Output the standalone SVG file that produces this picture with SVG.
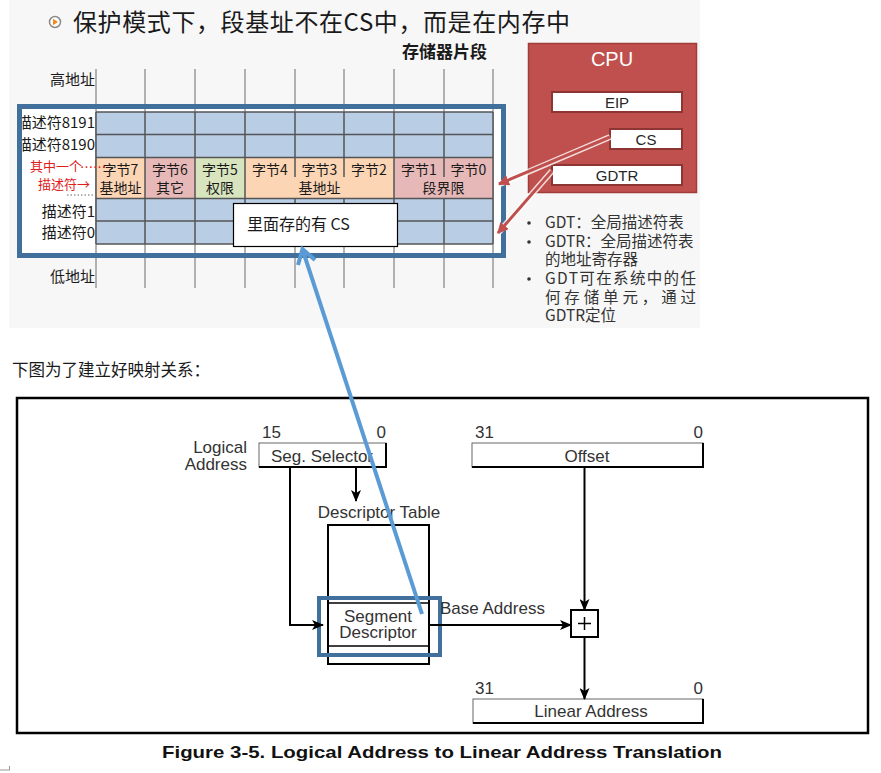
<svg xmlns="http://www.w3.org/2000/svg" width="881" height="773" viewBox="0 0 881 773">
<defs>
<style>
.cjk{font-family:"Noto Sans CJK SC","Noto Sans",sans-serif;}
.lbl{font-family:"Noto Sans CJK SC","Noto Sans",sans-serif;font-size:15px;fill:#1a1a1a;}
.cell{font-family:"Noto Sans CJK SC",sans-serif;font-size:14px;fill:#1a1a1a;text-anchor:middle;}
.red{font-family:"Noto Sans CJK SC",sans-serif;font-size:13px;fill:#e0201b;}
.reg{fill:#fff;stroke:#8c3533;stroke-width:2;}
.regt{font-family:"Liberation Sans",Arial,sans-serif;font-size:15px;fill:#262626;text-anchor:middle;}
.bul{font-family:"Noto Sans CJK SC",sans-serif;font-size:15.5px;fill:#333;}
.fig{font-family:"Liberation Sans",Arial,sans-serif;font-size:17px;fill:#333;}
.gl{stroke:#9a9a9a;stroke-width:1.5;}
.dl{stroke:#555;stroke-width:1.5;}
.ln{stroke:#000;stroke-width:2;fill:none;}
</style>
<marker id="ah" viewBox="0 0 12 10" refX="11" refY="5" markerWidth="12" markerHeight="10" markerUnits="userSpaceOnUse" orient="auto">
<path d="M0,0 L12,5 L0,10 L3,5 Z" fill="#000"/>
</marker>
<marker id="rah" viewBox="0 0 10 10" refX="9" refY="5" markerWidth="11" markerHeight="11" markerUnits="userSpaceOnUse" orient="auto">
<path d="M0,0 L10,5 L0,10 Z" fill="#c0504d"/>
</marker>
</defs>

<!-- top panel background -->
<rect x="9" y="0" width="691" height="328" fill="#f7f7f7"/>

<g id="title">
<circle cx="55" cy="22" r="5.5" fill="#fff" stroke="#8a8a8a" stroke-width="1.5"/>
<path d="M53,18.8 L58,22 L53,25.2 Z" fill="#f08a1c"/>
<text x="73" y="31" class="cjk" font-size="24" fill="#1a1a1a" textLength="497">保护模式下，段基址不在CS中，而是在内存中</text>
</g>

<g id="memory-label">
<text x="402" y="58" class="cjk" font-size="17" font-weight="bold" fill="#1a1a1a">存储器片段</text>
</g>

<g id="memory-table">
<rect x="19.5" y="106.5" width="484" height="149" fill="#fff"/>
<g class="gl">
<line x1="96" y1="69" x2="96" y2="288"/>
<line x1="145" y1="69" x2="145" y2="288"/>
<line x1="195" y1="69" x2="195" y2="288"/>
<line x1="245" y1="69" x2="245" y2="288"/>
<line x1="295" y1="69" x2="295" y2="288"/>
<line x1="344" y1="69" x2="344" y2="288"/>
<line x1="394" y1="69" x2="394" y2="288"/>
<line x1="444" y1="69" x2="444" y2="288"/>
<line x1="493" y1="69" x2="493" y2="288"/>
</g>
<rect x="96" y="112" width="397" height="46" fill="#b9cde5"/>
<rect x="96" y="198" width="397" height="46" fill="#b9cde5"/>
<rect x="96" y="158" width="49" height="40" fill="#fcd5b5"/>
<rect x="145" y="158" width="50" height="40" fill="#e6b9b8"/>
<rect x="195" y="158" width="50" height="40" fill="#d7e4bd"/>
<rect x="245" y="158" width="149" height="40" fill="#fcd5b5"/>
<rect x="394" y="158" width="99" height="40" fill="#e6b9b8"/>
<g class="dl">
<line x1="96" y1="112" x2="493" y2="112"/>
<line x1="96" y1="134.5" x2="493" y2="134.5"/>
<line x1="96" y1="157.5" x2="493" y2="157.5"/>
<line x1="96" y1="198.5" x2="493" y2="198.5"/>
<line x1="96" y1="221" x2="493" y2="221"/>
<line x1="96" y1="244" x2="493" y2="244"/>
<line x1="96" y1="112" x2="96" y2="244"/>
<line x1="145" y1="112" x2="145" y2="244"/>
<line x1="195" y1="112" x2="195" y2="244"/>
<line x1="245" y1="112" x2="245" y2="244"/>
<line x1="295" y1="112" x2="295" y2="157"/>
<line x1="295" y1="158" x2="295" y2="177"/>
<line x1="295" y1="199" x2="295" y2="244"/>
<line x1="344" y1="112" x2="344" y2="157"/>
<line x1="344" y1="158" x2="344" y2="177"/>
<line x1="344" y1="199" x2="344" y2="244"/>
<line x1="394" y1="112" x2="394" y2="244"/>
<line x1="444" y1="112" x2="444" y2="157"/>
<line x1="444" y1="158" x2="444" y2="177"/>
<line x1="444" y1="199" x2="444" y2="244"/>
<line x1="493" y1="112" x2="493" y2="244"/>
</g>
<text x="120.5" y="175" class="cell">字节7</text>
<text x="170" y="175" class="cell">字节6</text>
<text x="220" y="175" class="cell">字节5</text>
<text x="270" y="175" class="cell">字节4</text>
<text x="319.5" y="175" class="cell">字节3</text>
<text x="369" y="175" class="cell">字节2</text>
<text x="419" y="175" class="cell">字节1</text>
<text x="468.5" y="175" class="cell">字节0</text>
<text x="120.5" y="193" class="cell">基地址</text>
<text x="170" y="193" class="cell">其它</text>
<text x="220" y="193" class="cell">权限</text>
<text x="319.5" y="193" class="cell">基地址</text>
<text x="443.5" y="193" class="cell">段界限</text>
<text x="95" y="85" class="lbl" text-anchor="end">高地址</text>
<text x="95" y="128" class="lbl" text-anchor="end">描述符8191</text>
<text x="95" y="150" class="lbl" text-anchor="end">描述符8190</text>
<text x="95" y="217" class="lbl" text-anchor="end">描述符1</text>
<text x="95" y="238" class="lbl" text-anchor="end">描述符0</text>
<text x="95" y="282" class="lbl" text-anchor="end">低地址</text>
<text x="30" y="171" class="red">其中一个</text>
<text x="80" y="172" class="red" font-size="11" fill="#555">……</text>
<text x="38" y="189" class="red">描述符→</text>
<line x1="67" y1="195" x2="93" y2="195" stroke="#666" stroke-width="1" stroke-dasharray="1.5,2"/>
<rect x="19.5" y="106.5" width="484" height="149" fill="none" stroke="#41709c" stroke-width="5"/>
</g>

<g id="note-box">
<rect x="233.5" y="203.5" width="164" height="43" fill="#fff" stroke="#000" stroke-width="1.2"/>
<text x="247" y="230" class="cjk" font-size="16" fill="#1a1a1a">里面存的有 CS</text>
</g>

<g id="cpu">
<rect x="528.5" y="43.5" width="168" height="149" fill="#c0504d" stroke="#a03c3a" stroke-width="1.5"/>
<text x="612" y="66" font-family="Liberation Sans,Arial,sans-serif" font-size="20" fill="#fff" text-anchor="middle">CPU</text>
<rect x="552" y="92" width="130" height="20" class="reg"/>
<text x="617" y="108" class="regt">EIP</text>
<rect x="610" y="129" width="72" height="20" class="reg"/>
<text x="646" y="145" class="regt">CS</text>
<rect x="552" y="165" width="130" height="20" class="reg"/>
<text x="617" y="181" class="regt">GDTR</text>
</g>

<g id="notes">
<circle cx="529" cy="223" r="1.8" fill="#333"/>
<text x="545" y="228" class="bul">GDT：全局描述符表</text>
<circle cx="529" cy="242" r="1.8" fill="#333"/>
<text x="545" y="247" class="bul">GDTR：全局描述符表</text>
<text x="545" y="265" class="bul">的地址寄存器</text>
<circle cx="529" cy="279" r="1.8" fill="#333"/>
<text x="545" y="284" class="bul" textLength="151" lengthAdjust="spacing">GDT可在系统中的任</text>
<text x="545" y="303" class="bul" textLength="151" lengthAdjust="spacing">何存储单元，通过</text>
<text x="545" y="321" class="bul">GDTR定位</text>
</g>

<g id="caption-cn">
<text x="12" y="376" class="cjk" font-size="16.5" fill="#1a1a1a">下图为了建立好映射关系：</text>
</g>

<g id="figure-frame">
<rect x="17" y="398" width="851" height="335" fill="#fff" stroke="#000" stroke-width="2.5"/>
<line x1="0" y1="770" x2="10" y2="770" stroke="#999" stroke-width="1"/>
<line x1="9.5" y1="766" x2="9.5" y2="770" stroke="#999" stroke-width="1"/>
</g>

<g id="seg-selector">
<text x="247" y="453" class="fig" text-anchor="end">Logical</text>
<text x="247" y="470" class="fig" text-anchor="end">Address</text>
<text x="262" y="438" class="fig">15</text>
<text x="386" y="438" class="fig" text-anchor="end">0</text>
<rect x="259" y="443" width="127" height="24" fill="#fff" stroke="#666" stroke-width="1"/>
<polyline points="386,443 386,467 259,467" class="ln"/>
<text x="322" y="462" class="fig" text-anchor="middle">Seg. Selector</text>
</g>

<g id="offset">
<text x="475" y="438" class="fig">31</text>
<text x="703" y="438" class="fig" text-anchor="end">0</text>
<rect x="472" y="443" width="231" height="24" fill="#fff" stroke="#666" stroke-width="1"/>
<polyline points="703,443 703,467 472,467" class="ln"/>
<text x="587" y="462" class="fig" text-anchor="middle">Offset</text>
</g>

<g id="descriptor-table">
<text x="379" y="518" class="fig" text-anchor="middle" font-size="17.5">Descriptor Table</text>
<rect x="328" y="525" width="101" height="139" fill="#fff" stroke="#000" stroke-width="2"/>
<line x1="328" y1="603" x2="429" y2="603" stroke="#000" stroke-width="1.5"/>
<line x1="328" y1="646" x2="429" y2="646" stroke="#000" stroke-width="1.5"/>
</g>

<g id="segment-descriptor">
<text x="378" y="622" class="fig" text-anchor="middle">Segment</text>
<text x="378" y="638" class="fig" text-anchor="middle">Descriptor</text>
<rect x="319" y="598" width="121" height="57" fill="none" stroke="#41709c" stroke-width="4"/>
</g>

<g id="adder">
<rect x="571" y="610" width="27" height="27" fill="#fff" stroke="#000" stroke-width="2"/>
<line x1="584.5" y1="617" x2="584.5" y2="630" stroke="#000" stroke-width="1.5"/>
<line x1="578" y1="623.5" x2="591" y2="623.5" stroke="#000" stroke-width="1.5"/>
</g>

<g id="linear-address">
<text x="475" y="694" class="fig">31</text>
<text x="703" y="694" class="fig" text-anchor="end">0</text>
<rect x="473" y="699" width="230" height="24" fill="#fff" stroke="#666" stroke-width="1"/>
<polyline points="703,699 703,723 473,723" class="ln"/>
<text x="591" y="717" class="fig" text-anchor="middle">Linear Address</text>
</g>

<g id="figure-caption">
<text x="442" y="758" font-family="Liberation Sans,Arial,sans-serif" font-size="17" font-weight="bold" fill="#111" text-anchor="middle" textLength="560" lengthAdjust="spacingAndGlyphs">Figure 3-5.  Logical Address to Linear Address Translation</text>
</g>

<g id="connectors">
<line x1="356" y1="467" x2="356" y2="501" class="ln" marker-end="url(#ah)"/>
<polyline points="290,467 290,625 323,625" class="ln" marker-end="url(#ah)"/>
<line x1="429" y1="625" x2="571" y2="625" class="ln" marker-end="url(#ah)"/>
<text x="440" y="614" class="fig">Base Address</text>
<line x1="584.5" y1="467" x2="584.5" y2="610" class="ln" marker-end="url(#ah)"/>
<line x1="584.5" y1="637" x2="584.5" y2="699" class="ln" marker-end="url(#ah)"/>
<line x1="610" y1="137" x2="500" y2="184" stroke="#fff" stroke-width="6" opacity="0.8"/>
<line x1="552" y1="171" x2="499" y2="232" stroke="#fff" stroke-width="6" opacity="0.8"/>
<line x1="610" y1="137" x2="499" y2="184" stroke="#c0504d" stroke-width="3" marker-end="url(#rah)"/>
<line x1="552" y1="171" x2="498" y2="233" stroke="#c0504d" stroke-width="3" marker-end="url(#rah)"/>
<line x1="422" y1="614" x2="303" y2="251" stroke="#5b9bd5" stroke-width="4"/>
<polyline points="315,260 302.5,249 298,265" fill="none" stroke="#5b9bd5" stroke-width="4" stroke-linejoin="miter"/>
</g>
</svg>
